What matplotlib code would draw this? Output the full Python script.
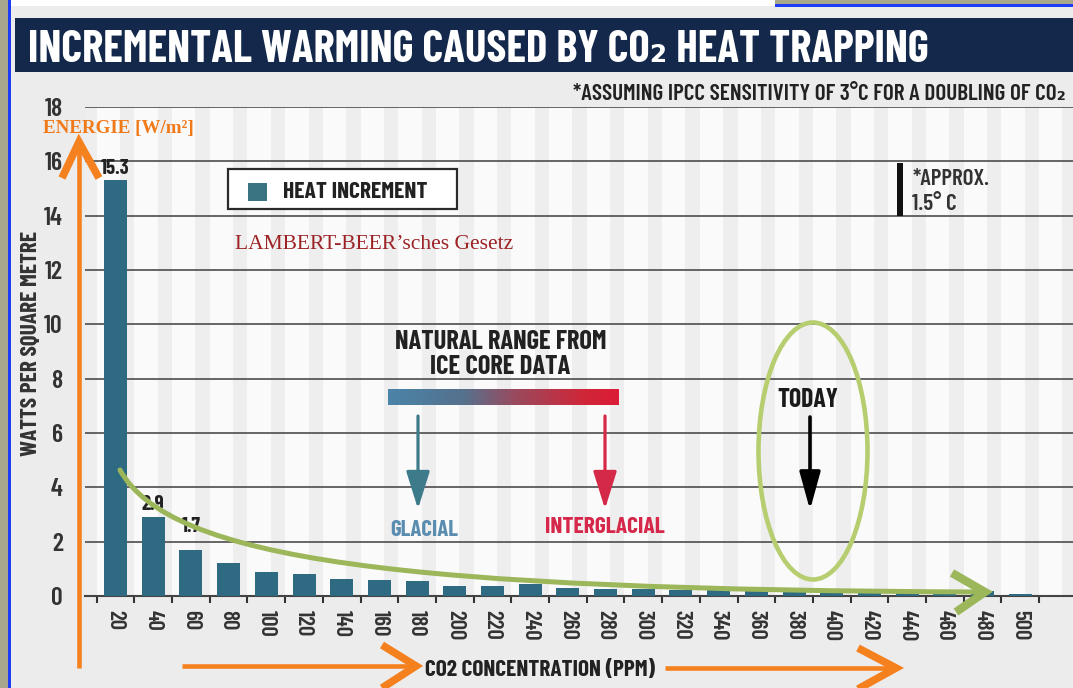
import numpy as np
import matplotlib
matplotlib.use("Agg")
import matplotlib.pyplot as plt
from matplotlib import font_manager as fm
from matplotlib.colors import LinearSegmentedColormap
from matplotlib.lines import Line2D
from matplotlib.patches import Rectangle, Ellipse, PathPatch
from matplotlib.path import Path

# ---------------- data ----------------
co2_ppm = ["20", "40", "60", "80", "100", "120", "140", "160", "180", "200",
           "220", "240", "260", "280", "300", "320", "340", "360", "380", "400",
           "420", "440", "460", "480", "500"]
heat_increment = [15.3, 2.9, 1.7, 1.22, 0.89, 0.82, 0.64, 0.58, 0.55, 0.37,
                  0.37, 0.45, 0.28, 0.27, 0.27, 0.22, 0.22, 0.22, 0.22, 0.18,
                  0.14, 0.10, 0.12, 0.20, 0.08]
labelled_values = ["15.3", "2.9", "1.7"]
y_ticks = [0, 2, 4, 6, 8, 10, 12, 14, 16, 18]

# ---------------- fonts ----------------
avail = {f.name for f in fm.fontManager.ttflist}
def pick(cands, default):
    for c in cands:
        if c in avail:
            return c
    return default
COND = pick(["Barlow Condensed", "Roboto Condensed", "Archivo Narrow", "PT Sans Narrow",
             "Saira SemiCondensed", "Sofia Sans Condensed", "Liberation Sans Narrow"], "DejaVu Sans")
SERIF = pick(["Liberation Serif", "Tinos", "DejaVu Serif"], "DejaVu Serif")
plt.rcParams["font.family"] = [COND, "DejaVu Sans"]
plt.rcParams["font.stretch"] = "condensed"
plt.rcParams["font.weight"] = 600

W, H = 1073, 688
def X(px): return px / W
def Y(py): return 1 - py / H

BAR = "#2e6b82"
ORANGE = "#f5801e"
GREEN = "#9cb65a"

fig = plt.figure(figsize=(W / 100, H / 100), dpi=100, facecolor="#ececec")
ax = fig.add_axes([X(85), Y(596), X(1073) - X(85), Y(107) - Y(596)])
ax.set_facecolor("#fafafa")

x = np.arange(len(co2_ppm))
ax.set_xlim(-0.81, 25.4)
ax.set_ylim(0, 18)

# stripes
for i in range(-1, 26):
    ax.axvspan(i + 0.12, i + 0.5, color="#eeeeee", lw=0, zorder=0.1)

bars = ax.bar(x, heat_increment, width=0.61, color=BAR, zorder=3)

offsets = [0.1, 0.1, 0.5]
for i, lab in enumerate(labelled_values):
    ax.text(x[i], heat_increment[i] + offsets[i], lab, ha="center", va="bottom",
            fontsize=15, fontweight="bold", color="#222222", zorder=4)

ax.set_axisbelow(True)
ax.set_yticks(y_ticks)
ax.yaxis.grid(True, color="#4d4d4d", lw=1.2)
for s in ["left", "right", "top"]:
    ax.spines[s].set_visible(False)
ax.spines["bottom"].set_color("#444444")
ax.spines["bottom"].set_linewidth(1.5)

ax.set_xticks(np.arange(-0.5, len(co2_ppm), 1))
ax.set_xticklabels([])
ax.set_xticks(x, co2_ppm, minor=True)
ax.tick_params(axis="x", which="major", length=5, width=1.5, color="#333333", direction="out")
ax.tick_params(axis="x", which="minor", length=0, pad=10, labelrotation=-90,
               labelsize=16.5, labelcolor="#333333")
ax.tick_params(axis="y", length=0, pad=16, labelsize=18.5, labelcolor="#333333")

ylab = ax.set_ylabel("WATTS PER SQUARE METRE", fontsize=14, color="#333333",
                     fontweight="bold", ha="center", va="center")
ax.yaxis.set_label_coords((31 - 85) / 988, (596 - 343) / 489)
xlab = ax.set_xlabel("CO2 CONCENTRATION (PPM)", fontsize=15, color="#222222",
                     fontweight="bold", ha="center", va="center")
ax.xaxis.set_label_coords((540 - 85) / 988, (596 - 670) / 489)

# ---------------- frame decorations ----------------
def frect(x0, y0, x1, y1, **kw):
    r = Rectangle((X(x0), Y(y1)), (x1 - x0) / W, (y1 - y0) / H,
                  transform=fig.transFigure, **kw)
    fig.patches.append(r)
    return r

frect(0, 0, 8, 688, fc="#a9a78b", lw=0, zorder=1)
frect(8, 0, 10.5, 688, fc="#1e3cf5", lw=0, zorder=1)
frect(10.5, 0, 775, 6, fc="white", lw=0, zorder=1)
frect(775, 0, 1073, 4, fc="#a9a78b", lw=0, zorder=1)
frect(775, 4, 1073, 7, fc="#1e3cf5", lw=0, zorder=1)
frect(15, 18, 1073, 72, fc="#13284a", lw=0, zorder=1)

texts_to_fit = []
def ftext(px, py, s, width=None, by="w", **kw):
    t = fig.text(X(px), Y(py), s, **kw)
    if width:
        texts_to_fit.append((t, width, by))
    return t

ftext(28, 62, "INCREMENTAL WARMING CAUSED BY CO₂ HEAT TRAPPING", 902,
      color="white", fontsize=30, fontweight="bold", va="baseline", ha="left")
ftext(1066, 100, "*ASSUMING IPCC SENSITIVITY OF 3°C FOR A DOUBLING OF CO₂", 494,
      color="#222222", fontsize=13, va="baseline", ha="right")

# legend box
frect(228, 169, 457, 209, fc="white", ec="#2a2a2a", lw=1.6, zorder=5)
frect(248, 183, 267, 201, fc="#3a7382", lw=0, zorder=6)
ftext(283, 198, "HEAT INCREMENT", 145, color="#222222", fontsize=14,
      fontweight="bold", va="baseline", ha="left", zorder=7)

ftext(235, 249, "LAMBERT-BEER’sches Gesetz", 278, family=SERIF, fontweight="normal",
      color="#9c2226", fontsize=16, va="baseline", ha="left")
ftext(43, 133, "ENERGIE [W/m²]", 150, family=SERIF, fontweight="bold",
      color="#f07a1a", fontsize=12, va="baseline", ha="left", zorder=8)

# approx marker
frect(897, 163, 903, 216, fc="#111111", lw=0, zorder=5)
ftext(913, 185, "*APPROX.", 77, color="#333333", fontsize=14, va="baseline", ha="left")
ftext(912, 210, "1.5° C", 45, color="#333333", fontsize=14, va="baseline", ha="left")

# natural range
ftext(501, 349, "NATURAL RANGE FROM", 213, color="#222222", fontsize=16,
      fontweight="bold", va="baseline", ha="center")
ftext(500, 374, "ICE CORE DATA", 141, color="#222222", fontsize=16,
      fontweight="bold", va="baseline", ha="center")
cmap = LinearSegmentedColormap.from_list(
    "ice", [(0, "#4a84a8"), (0.33, "#56718d"), (0.55, "#9a4a5e"), (0.85, "#d02638"), (1, "#dc1c36")])
gax = fig.add_axes([X(388), Y(405), 231 / W, 16 / H])
gax.imshow(np.linspace(0, 1, 256)[None, :], aspect="auto", cmap=cmap)
gax.axis("off")

def parrow(x0, y0, x1, y1, color, lw, scale, hl, hw):
    fig.add_artist(matplotlib.text.Annotation(
        "", xy=(x1, H - y1), xytext=(x0, H - y0), xycoords="figure pixels",
        textcoords="figure pixels",
        arrowprops=dict(arrowstyle=f"-|>,head_length={hl},head_width={hw}",
                        color=color, lw=lw, mutation_scale=scale,
                        shrinkA=0, shrinkB=0)))

parrow(418, 416, 418, 509, "#3d7a8a", 2.3, 29, 0.8, 0.25)
ftext(424, 536, "GLACIAL", 68, color="#5b8db0", fontsize=15, fontweight="bold",
      va="baseline", ha="center")
parrow(605, 416, 605, 509, "#d42a48", 2.3, 29, 0.8, 0.25)
ftext(605, 533, "INTERGLACIAL", 120, color="#d6284a", fontsize=15, fontweight="bold",
      va="baseline", ha="center")

# today
ftext(808, 407, "TODAY", 61, color="#1a1a1a", fontsize=16, fontweight="bold",
      va="baseline", ha="center")
parrow(810, 417, 810, 510, "black", 2.6, 29, 0.8, 0.22)
fig.patches.append(Ellipse((X(813), Y(451)), 109 / W, 257 / H, transform=fig.transFigure,
                           fc="none", ec="#b6ce6f", lw=3.3, zorder=6))

# green decay curve
verts = [(X(120), Y(470)), (X(170), Y(560)), (X(400), Y(590)), (X(985), Y(592))]
codes = [Path.MOVETO, Path.CURVE4, Path.CURVE4, Path.CURVE4]
fig.patches.append(PathPatch(Path(verts, codes), transform=fig.transFigure,
                             fc="none", ec=GREEN, lw=3.6, zorder=7, capstyle="round"))
fig.add_artist(Line2D([X(952), X(985), X(956)], [Y(573), Y(592), Y(612)],
                      transform=fig.transFigure, color=GREEN, lw=6,
                      solid_joinstyle="miter", solid_capstyle="butt", zorder=7))

# orange axis arrows
def fline(xs, ys, lw, **kw):
    fig.add_artist(Line2D([X(v) for v in xs], [Y(v) for v in ys], transform=fig.transFigure,
                          color=ORANGE, lw=lw, solid_joinstyle="miter",
                          solid_capstyle="butt", zorder=8, **kw))

fline([79, 79], [668, 148], 3.3)
fline([62, 79, 99], [178, 142, 178], 5.5)
fline([182, 412], [666, 666], 3.3)
fline([382, 416, 382], [645, 666, 688], 5.5)
fline([665, 893], [668, 668], 3.3)
fline([858, 896, 858], [648, 668, 689], 5.5)

# fit text widths
renderer = fig.canvas.get_renderer()
for t, width, by in texts_to_fit:
    bb = t.get_window_extent(renderer)
    cur = bb.width if by == "w" else bb.height
    t.set_fontsize(t.get_fontsize() * width / cur)
for t, width, by in [(ylab, 225, "h"), (xlab, 230, "w")]:
    bb = t.get_window_extent(renderer)
    cur = bb.width if by == "w" else bb.height
    t.set_fontsize(t.get_fontsize() * width / cur)

fig.savefig("out.png", dpi=100, facecolor=fig.get_facecolor())
